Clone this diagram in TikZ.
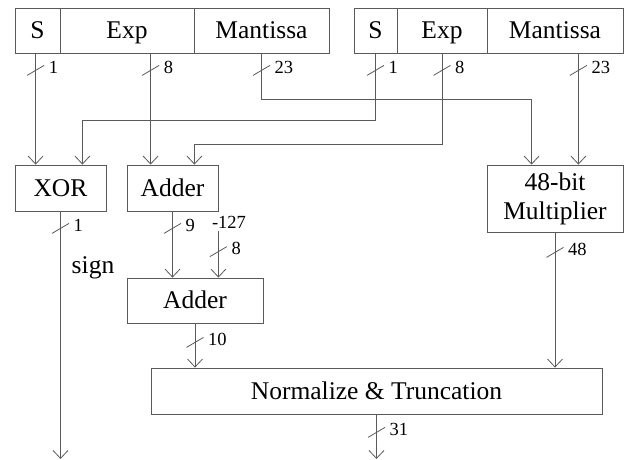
\documentclass[tikz,border=0pt]{standalone}
\usepackage{fontspec}
\setmainfont{Liberation Serif}
\usetikzlibrary{arrows.meta,calc}
\definecolor{wire}{HTML}{5A5A5A}
\tikzset{
  boxbase/.style={draw=wire, line width=0.8pt, rectangle, inner sep=0pt,
              font=\fontsize{25.5}{30}\selectfont, align=center},
  box/.style={boxbase, text height=18pt, text depth=1.2pt},
  sig/.style={draw=wire, line width=0.8pt, -{Straight Barb[length=8pt,width=15pt]}},
  wireline/.style={draw=wire, line width=0.8pt},
  lab/.style={inner sep=0pt, font=\fontsize{18.5}{20}\selectfont},
  pics/bus/.style={code={
    \draw[wireline] (-8.5,5) -- (8.5,-5);
    \node[lab, anchor=west] (-txt) at (13,-3) {#1};
  }}
}
\begin{document}
\begin{tikzpicture}[x=1pt, y=-1pt]
\useasboundingbox (0,0) rectangle (629,459);

% operand A register
\node[box, minimum width=45pt,  minimum height=45pt] (lS) at (37.5,30.5) {S};
\node[box, minimum width=134pt, minimum height=45pt] (lE) at (127,30.5) {Exp};
\node[box, minimum width=135pt, minimum height=45pt] (lM) at (261.5,30.5) {Mantissa};
% operand B register
\node[box, minimum width=43pt,  minimum height=45pt] (rS) at (375.5,30.5) {S};
\node[box, minimum width=90pt,  minimum height=45pt] (rE) at (442,30.5) {Exp};
\node[box, minimum width=136pt, minimum height=45pt] (rM) at (555,30.5) {Mantissa};

% processing blocks
\node[box, minimum width=91pt,  minimum height=46pt] (xor)  at (60.5,188)  {XOR};
\node[box, minimum width=91pt,  minimum height=46pt] (add1) at (172.5,188) {Adder};
\node[boxbase, minimum width=136pt, minimum height=67pt] (mult) at (555,198.5) {48-bit\\[-1pt]Multiplier};
\node[box, minimum width=136pt, minimum height=45pt] (add2) at (195,300.5) {Adder};
\node[box, minimum width=451pt, minimum height=46pt] (norm) at (376.5,391) {Normalize \& Truncation};

% input points on the blocks
\coordinate (xL)  at ([xshift=21pt]xor.north west);
\coordinate (xR)  at ([xshift=-24pt]xor.north east);
\coordinate (a1L) at ([xshift=24pt]add1.north west);
\coordinate (a1R) at ([xshift=-24pt]add1.north east);
\coordinate (mL)  at ([xshift=45pt]mult.north west);
\coordinate (mR)  at ([xshift=-45pt]mult.north east);
\coordinate (a2R) at ([xshift=-45pt]add2.north east);

% sign bits
\draw[sig] (xL |- lS.south) -- (xL);
\draw[sig] (rS.south) -- ++(0,67) -| (xR);
% exponents
\draw[sig] (a1L |- lE.south) -- (a1L);
\draw[sig] (rE.south) -- ++(0,91) -| (a1R);
% mantissas
\draw[sig] (lM.south) -- ++(0,46) -| (mL);
\draw[sig] (mR |- rM.south) -- (mR);

% bus widths on the register outputs
\pic (b1) at ($(xL |- lS.south)+(0,17)$) {bus=1};
\pic (b2) at ($(a1L |- lE.south)+(0,17)$) {bus=8};
\pic (b3) at ($(lM.south)+(0,17)$) {bus=23};
\pic (b4) at ($(rS.south)+(0,17)$) {bus=1};
\pic (b5) at ($(rE.south)+(0,17)$) {bus=8};
\pic (b6) at ($(mR |- rM.south)+(0,17)$) {bus=23};

% sign output
\coordinate (signout) at (60.5,459);
\draw[sig] (xor.south) -- (signout);
\pic (b7) at ($(xor.south)+(0,17)$) {bus=1};
\node[font=\fontsize{25.5}{30}\selectfont, inner sep=0pt] (sign) at (93,268) {sign};

% exponent sum and bias
\draw[sig] (add1.south) -- (add1.south |- add2.north);
\pic (b8) at ($(add1.south)+(0,17)$) {bus=9};
\node[lab] (bias) at (229,222) {-127};
\draw[sig] (a2R |- bias.south) ++(0,3) -- (a2R);
\pic (b9) at ($(a2R |- add2.north)+(0,-26)$) {bus=8};

% into normalization
\draw[sig] (add2.south) -- (add2.south |- norm.north);
\pic (b10) at ($(add2.south)+(0,19)$) {bus=10};
\draw[sig] (mult.south) -- (mult.south |- norm.north);
\pic (b11) at ($(mult.south)+(0,20)$) {bus=48};

% result
\coordinate (resout) at (376.5,459);
\draw[sig] (norm.south) -- (resout);
\pic (b12) at ($(norm.south)+(0,18)$) {bus=31};
\end{tikzpicture}
\end{document}
